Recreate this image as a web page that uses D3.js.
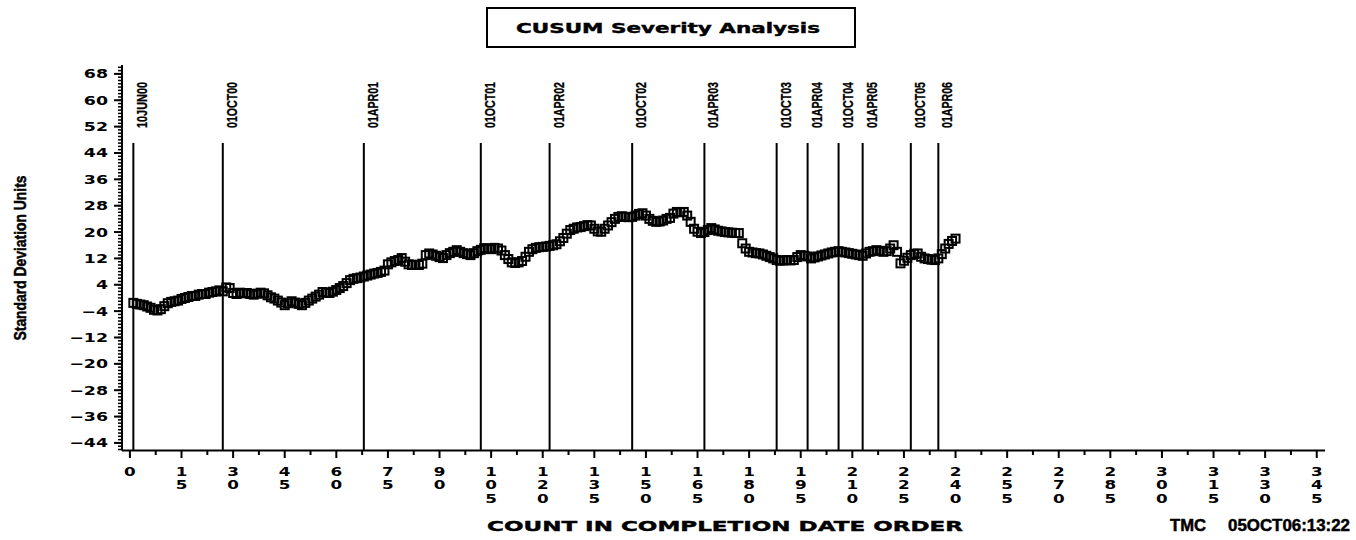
<!DOCTYPE html>
<html>
<head>
<meta charset="utf-8">
<script src="https://cdn.jsdelivr.net/npm/d3@7"></script>
<style>
  body { margin: 0; background: #ffffff; }
  svg { display: block; }
</style>
</head>
<body>
<svg id="chart" width="1356" height="540"></svg>
<script>
// CUSUM severity chart

// cusum values, count 1..240
const cusumValues = [
  -1.5, -1.8, -2.0, -2.2, -2.6, -3.0, -3.6, -3.8, -3.4, -2.5,
  -1.6, -1.2, -1.0, -0.8, -0.3, 0.0, 0.3, 0.6, 0.6, 1.0,
  1.2, 1.2, 1.6, 1.8, 2.0, 2.3, 2.0, 3.2, 3.0, 1.5,
  1.2, 1.6, 1.4, 1.5, 1.2, 1.0, 1.3, 1.6, 1.4, 0.8,
  0.2, -0.2, -0.8, -1.4, -2.2, -1.6, -1.0, -1.4, -1.8, -2.2,
  -1.5, -0.8, -0.2, 0.4, 1.0, 1.8, 1.6, 1.5, 1.9, 2.4,
  3.0, 3.6, 4.5, 5.4, 5.8, 6.0, 6.2, 6.5, 6.8, 7.1,
  7.4, 7.6, 7.9, 8.3, 10.2, 10.8, 11.2, 11.5, 12.1, 11.0,
  10.2, 10.0, 10.1, 10.0, 10.4, 13.0, 13.5, 13.2, 12.8, 12.4,
  12.1, 13.0, 13.6, 14.0, 14.5, 14.0, 13.6, 13.3, 13.0, 13.6,
  14.2, 14.6, 15.1, 15.0, 14.8, 15.2, 15.0, 14.4, 13.0, 11.8,
  10.8, 10.6, 10.8, 11.2, 12.5, 14.0, 14.8, 15.2, 15.4, 15.5,
  15.6, 15.8, 16.0, 16.3, 17.2, 18.2, 19.5, 20.6, 21.0, 21.4,
  21.5, 21.8, 22.1, 22.0, 21.0, 20.2, 20.1, 21.0, 22.0, 23.0,
  24.0, 24.6, 24.8, 24.6, 24.5, 24.6, 25.0, 25.5, 25.7, 25.0,
  24.0, 23.4, 23.1, 23.2, 23.5, 24.0, 24.3, 25.6, 26.1, 26.0,
  26.1, 25.0, 23.1, 21.0, 20.1, 19.7, 20.0, 20.6, 21.2, 20.8,
  20.4, 20.2, 20.0, 19.9, 19.8, 19.7, 19.7, 16.6, 15.0, 14.0,
  13.8, 13.6, 13.5, 13.2, 12.8, 12.4, 12.0, 11.5, 11.3, 11.4,
  11.5, 11.4, 11.5, 12.4, 13.0, 12.8, 12.6, 12.0, 12.3, 12.6,
  12.9, 13.2, 13.5, 13.8, 14.0, 14.2, 14.0, 13.8, 13.6, 13.4,
  13.2, 13.0, 12.8, 13.5, 14.0, 14.2, 14.5, 14.3, 14.0, 14.2,
  15.0, 16.0, 14.0, 10.5, 11.3, 12.2, 13.0, 13.4, 13.5, 12.5,
  12.0, 11.8, 11.6, 11.5, 12.0, 13.3, 15.0, 16.4, 17.3, 18.0
];

// date reference lines (count position + label)
const refCounts = [1, 27, 68, 102, 122, 146, 167, 188, 197, 206, 213, 227, 235];
const refLabels = ["10JUN00", "01OCT00", "01APR01", "01OCT01", "01APR02", "01OCT02",
  "01APR03", "01OCT03", "01APR04", "01OCT04", "01APR05", "01OCT05", "01APR06"];

// axis ticks
const xTicks = d3.range(0, 346, 15);
const yTicks = d3.range(-44, 69, 8);

let svg = d3.select("#chart");

const x = d3.scaleLinear().domain([-2.3, 347.4]).range([122, 1325]);
const y = d3.scaleLinear().domain([-46.3, 70.7]).range([450.5, 65]);

const tickFont = "'DejaVu Sans', sans-serif";
const narrowFont = "'Liberation Sans Narrow', 'Liberation Sans', Arial, sans-serif";

// Title box
svg.append("rect")
    .attr("x", 487).attr("y", 8)
    .attr("width", 368).attr("height", 39)
    .attr("fill", "none")
    .attr("stroke", "black")
    .attr("stroke-width", 2);
svg.append("text")
    .attr("x", 668).attr("y", 33)
    .attr("text-anchor", "middle")
    .attr("font-family", tickFont)
    .attr("font-weight", "bold")
    .attr("font-size", 14)
    .attr("stroke", "black").attr("stroke-width", 0.4)
    .attr("textLength", 304)
    .attr("lengthAdjust", "spacingAndGlyphs")
    .text("CUSUM  Severity  Analysis");

// Y axis
let yAxis = svg.append("g");
yAxis.append("line")
    .attr("x1", 122).attr("x2", 122)
    .attr("y1", y.range()[1]).attr("y2", y.range()[0])
    .attr("stroke", "black").attr("stroke-width", 2);
yAxis.selectAll("line.minor").data(d3.range(-46, 71))
    .join("line")
    .attr("class", "minor")
    .attr("x1", 118).attr("x2", 122)
    .attr("y1", d => y(d)).attr("y2", d => y(d))
    .attr("stroke", "black").attr("stroke-width", 1.5);
yAxis.selectAll("line.major").data(yTicks)
    .join("line")
    .attr("class", "major")
    .attr("x1", 114).attr("x2", 122)
    .attr("y1", d => y(d)).attr("y2", d => y(d))
    .attr("stroke", "black").attr("stroke-width", 2);
yAxis.selectAll("text").data(yTicks)
    .join("text")
    .attr("transform", d => "translate(108," + (y(d) + 4.5) + ") scale(1.45,1)")
    .attr("text-anchor", "end")
    .attr("font-family", tickFont)
    .attr("font-weight", "bold")
    .attr("font-size", 12)
    .text(d => d < 0 ? "\u2212" + Math.abs(d) : d);

svg.append("text")
    .attr("transform", "translate(26,258) rotate(-90)")
    .attr("text-anchor", "middle")
    .attr("font-family", narrowFont)
    .attr("font-weight", "bold")
    .attr("font-size", 17)
    .attr("stroke", "black").attr("stroke-width", 0.5)
    .attr("textLength", 165)
    .attr("lengthAdjust", "spacingAndGlyphs")
    .text("Standard Deviation Units");

// X axis
let xAxis = svg.append("g");
xAxis.append("line")
    .attr("x1", 122).attr("x2", 1325)
    .attr("y1", 450.5).attr("y2", 450.5)
    .attr("stroke", "black").attr("stroke-width", 2);
xAxis.selectAll("line.minor").data(d3.range(7.5, 345, 15))
    .join("line")
    .attr("class", "minor")
    .attr("x1", d => x(d)).attr("x2", d => x(d))
    .attr("y1", 450.5).attr("y2", 455)
    .attr("stroke", "black").attr("stroke-width", 2);
xAxis.selectAll("line.major").data(xTicks)
    .join("line")
    .attr("class", "major")
    .attr("x1", d => x(d)).attr("x2", d => x(d))
    .attr("y1", 450.5).attr("y2", 458)
    .attr("stroke", "black").attr("stroke-width", 2);

// tick labels stacked one digit per line
xTicks.forEach(function (t) {
    let label = xAxis.append("text")
        .attr("transform", "translate(" + x(t) + ",0) scale(1.4,1)")
        .attr("text-anchor", "middle")
        .attr("font-family", tickFont)
        .attr("font-weight", "bold")
        .attr("font-size", 12);
    String(t).split("").forEach(function (ch, i) {
        label.append("tspan")
            .attr("x", 0)
            .attr("y", 476 + i * 13.5)
            .text(ch);
    });
});

svg.append("text")
    .attr("x", 725).attr("y", 531)
    .attr("text-anchor", "middle")
    .attr("font-family", tickFont)
    .attr("font-weight", "bold")
    .attr("font-size", 14)
    .attr("stroke", "black").attr("stroke-width", 0.4)
    .attr("textLength", 476)
    .attr("lengthAdjust", "spacingAndGlyphs")
    .text("COUNT  IN  COMPLETION  DATE  ORDER");

svg.append("text")
    .attr("x", 1170).attr("y", 531)
    .attr("font-family", narrowFont)
    .attr("font-weight", "bold")
    .attr("font-size", 17)
    .attr("stroke", "black").attr("stroke-width", 0.5)
    .attr("textLength", 36)
    .attr("lengthAdjust", "spacingAndGlyphs")
    .text("TMC");
svg.append("text")
    .attr("x", 1228).attr("y", 531)
    .attr("font-family", narrowFont)
    .attr("font-weight", "bold")
    .attr("font-size", 17)
    .attr("stroke", "black").attr("stroke-width", 0.5)
    .attr("textLength", 122)
    .attr("lengthAdjust", "spacingAndGlyphs")
    .text("05OCT06:13:22");

// Reference lines with date labels
svg.selectAll("line.ref").data(refCounts)
    .join("line")
    .attr("class", "ref")
    .attr("x1", d => x(d)).attr("x2", d => x(d))
    .attr("y1", 143).attr("y2", 450.5)
    .attr("stroke", "black").attr("stroke-width", 2);
svg.selectAll("text.ref").data(refCounts)
    .join("text")
    .attr("class", "ref")
    .attr("transform", d => "translate(" + (x(d) + 14) + ",128) rotate(-90)")
    .attr("font-family", narrowFont)
    .attr("font-weight", "bold")
    .attr("font-size", 14)
    .attr("stroke", "black").attr("stroke-width", 0.3)
    .attr("textLength", 46)
    .attr("lengthAdjust", "spacingAndGlyphs")
    .text((d, i) => refLabels[i]);

// Square markers
svg.selectAll("rect.pt").data(cusumValues)
    .join("rect")
    .attr("class", "pt")
    .attr("x", (d, i) => x(i + 1) - 4)
    .attr("y", d => y(d) - 4)
    .attr("width", 8).attr("height", 8)
    .attr("fill", "none")
    .attr("stroke", "black")
    .attr("stroke-width", 2);
</script>
</body>
</html>
